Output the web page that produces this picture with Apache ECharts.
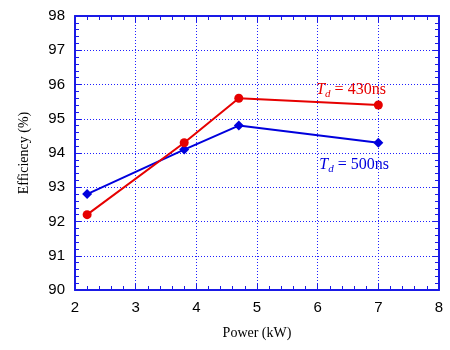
<!DOCTYPE html>
<html>
<head>
<meta charset="utf-8">
<script src="https://cdn.jsdelivr.net/npm/echarts@6/dist/echarts.min.js"></script>
<style>
html,body{margin:0;padding:0;background:#fff;}
#main{width:450px;height:350px;}
</style>
</head>
<body>
<div id="main"></div>
<script>
var power = [2.2, 3.8, 4.7, 7];
var eff430 = [92.2, 94.3, 95.6, 95.4];
var eff500 = [92.8, 94.1, 94.8, 94.3];
var xTicks = [2, 3, 4, 5, 6, 7, 8];
var yTicks = [90, 91, 92, 93, 94, 95, 96, 97, 98];
var label430 = [6.55, 95.85];
var label500 = [6.6, 93.65];

var red = '#e60000';
var blue = '#0000dd';
var frame = '#1a1ae6';

function pairs(xs, ys){
	return xs.map(function(x, i){ return [x, ys[i]]; });
}

/*坐标轴公共样式*/
function axisBase(showLabel){
	return {
		axisLine: {show: true, onZero: false, lineStyle: {color: frame, width: 2}},
		axisTick: {show: true, inside: true, length: 6, lineStyle: {color: frame, width: 1}},
		minorTick: {show: true, splitNumber: 5, length: 4, lineStyle: {color: frame, width: 1}},
		axisLabel: {show: showLabel, color: '#000', fontFamily: 'Liberation Sans', fontSize: 15, margin: 10},
		splitLine: {show: false}
	};
}

function richLabel(num, color){
	return {
		show: true,
		position: 'inside',
		formatter: '{i|T}{s|d}{n| = ' + num + 'ns}',
		rich: {
			i: {fontFamily: 'Liberation Serif', fontStyle: 'italic', fontSize: 16, color: color},
			s: {fontFamily: 'Liberation Serif', fontStyle: 'italic', fontSize: 11, color: color, padding: [9, 0, 0, 0]},
			n: {fontFamily: 'Liberation Serif', fontSize: 16, color: color}
		}
	};
}

var gridLine = {show: true, lineStyle: {color: '#1f1fff', width: 1, type: [1, 2]}};

var xMain = Object.assign(axisBase(true), {
	type: 'value', min: 2, max: 8, interval: 1, position: 'bottom',
	name: 'Power (kW)', nameLocation: 'middle', nameGap: 36,
	nameTextStyle: {fontFamily: 'Liberation Serif', fontSize: 14, color: '#000'}
});
xMain.splitLine = gridLine;
var xTop = Object.assign(axisBase(false), {type: 'value', min: 2, max: 8, interval: 1, position: 'top'});

var yMain = Object.assign(axisBase(true), {
	type: 'value', min: 90, max: 98, interval: 1, position: 'left',
	name: 'Efficiency (%)', nameLocation: 'middle', nameGap: 44,
	nameTextStyle: {fontFamily: 'Liberation Serif', fontSize: 14, color: '#000'}
});
yMain.splitLine = gridLine;
var yRight = Object.assign(axisBase(false), {type: 'value', min: 90, max: 98, interval: 1, position: 'right'});

var myChart = echarts.init(document.getElementById('main'), null, {renderer: 'canvas'});
var option = {
	animation: false,
	backgroundColor: '#fff',
	grid: {left: 75, right: 11, top: 16, bottom: 60},
	xAxis: [xMain, xTop],
	yAxis: [yMain, yRight],
	series: [
		{
			name: '430ns', type: 'line', data: pairs(power, eff430),
			symbol: 'circle', symbolSize: 9,
			lineStyle: {color: red, width: 2}, itemStyle: {color: red},
			z: 4,
			markPoint: {
				symbol: 'circle', symbolSize: 1, itemStyle: {color: 'rgba(0,0,0,0)'},
				data: [{coord: label430, label: richLabel(430, red)}]
			}
		},
		{
			name: '500ns', type: 'line', data: pairs(power, eff500),
			symbol: 'diamond', symbolSize: 10,
			lineStyle: {color: blue, width: 2}, itemStyle: {color: blue},
			z: 3,
			markPoint: {
				symbol: 'circle', symbolSize: 1, itemStyle: {color: 'rgba(0,0,0,0)'},
				data: [{coord: label500, label: richLabel(500, blue)}]
			}
		}
	]
};
myChart.setOption(option);
</script>
</body>
</html>
